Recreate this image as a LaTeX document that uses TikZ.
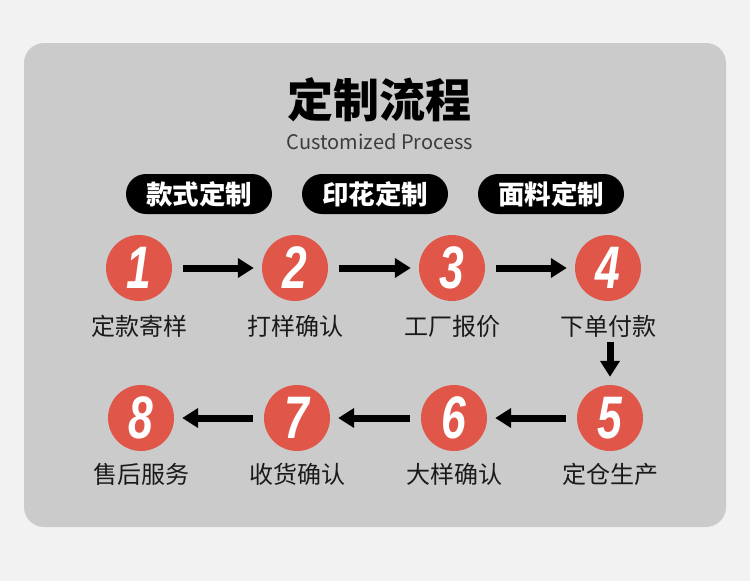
\documentclass[tikz,border=0pt]{standalone}
\usepackage{fontspec}
\setmainfont{Noto Sans CJK SC}
\newfontfamily\numfont[FakeStretch=0.74]{Liberation Sans}
\usetikzlibrary{arrows.meta}
\definecolor{pagebg}{HTML}{F2F2F2}
\definecolor{panelbg}{HTML}{CBCBCB}
\definecolor{dotred}{HTML}{E0574A}
\definecolor{ink}{HTML}{1A1A1A}

\begin{document}
\begin{tikzpicture}[x=1pt, y=-1pt,
  stp/.style={circle, fill=dotred, minimum size=66pt, inner sep=0pt, text=white,
    font=\numfont\bfseries\itshape\fontsize{60}{60}\selectfont},
  lab/.style={inner sep=2pt, text=ink, font=\fontsize{24}{24}\selectfont},
  pill/.style={fill=black, rounded corners=20pt, minimum width=146pt, minimum height=40pt,
    inner sep=0pt, text=white, font=\bfseries\fontsize{26.5}{26.5}\selectfont},
  flow/.style={-{Triangle[length=16pt, width=19pt]}, line width=7pt, draw=black,
    shorten <=11pt, shorten >=8pt}]
  % fondo
  \fill[pagebg] (0,0) rectangle (750,581);
  \fill[panelbg, rounded corners=20pt] (24,43) rectangle (726,527);
  % titulo
  \node[text=black, font=\bfseries\fontsize{46}{46}\selectfont] (title) at (379,100) {定制流程};
  \node[text=ink!85, font=\fontsize{20}{20}\selectfont] (sub) at (380,142) {Customized Process};
  % pastillas
  \node[pill] (p1) at (199,194) {款式定制};
  \node[pill] (p2) at (375,194) {印花定制};
  \node[pill] (p3) at (551,194) {面料定制};
  % fila 1
  \node[stp] (n1) at (139,268) {1};
  \node[stp] (n2) at (295,268) {2};
  \node[stp] (n3) at (452,268) {3};
  \node[stp] (n4) at (608,268) {4};
  \node[lab] (l1) at (139,326) {定款寄样};
  \node[lab] (l2) at (295,326) {打样确认};
  \node[lab] (l3) at (452,326) {工厂报价};
  \node[lab] (l4) at (608,326) {下单付款};
  % fila 2
  \node[stp] (n5) at (610,418) {5};
  \node[stp] (n6) at (454,418) {6};
  \node[stp] (n7) at (297,418) {7};
  \node[stp] (n8) at (141,418) {8};
  \node[lab] (l5) at (610,474) {定仓生产};
  \node[lab] (l6) at (454,474) {大样确认};
  \node[lab] (l7) at (297,474) {收货确认};
  \node[lab] (l8) at (141,474) {售后服务};
  % flechas
  \draw[flow] (n1) -- (n2); \draw[flow] (n2) -- (n3); \draw[flow] (n3) -- (n4);
  \draw[flow, shorten <=3pt] (l4.south -| n5) -- (n5.north);
  \draw[flow] (n5) -- (n6); \draw[flow] (n6) -- (n7); \draw[flow] (n7) -- (n8);
\end{tikzpicture}
\end{document}
